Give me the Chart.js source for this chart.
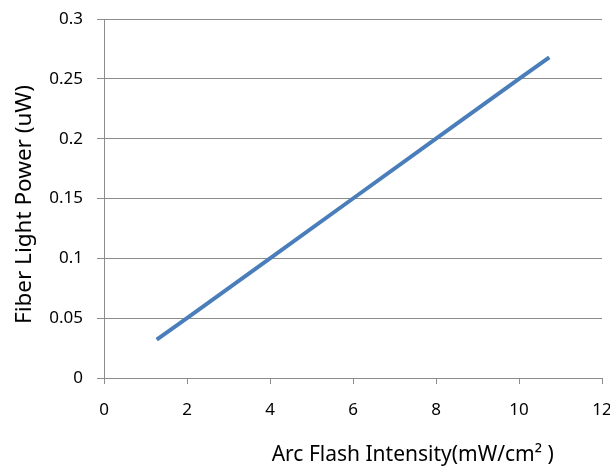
<!DOCTYPE html>
<html>
<head>
<meta charset="utf-8">
<script src="https://cdn.jsdelivr.net/npm/chart.js@4/dist/chart.umd.min.js"></script>
<style>
  html, body { margin: 0; padding: 0; background: #fff; }
  #wrap { width: 610px; height: 469px; position: relative; }
</style>
</head>
<body>
<div id="wrap"><canvas id="chart"></canvas></div>
<script>
// data
const intensity = [1.27, 2, 4, 6, 8, 10, 10.73];
const power = [0.032, 0.05, 0.1, 0.15, 0.2, 0.25, 0.268];
const xTicks = [0, 2, 4, 6, 8, 10, 12];
const yTicks = [0, 0.05, 0.1, 0.15, 0.2, 0.25, 0.3];
const xTitle = "Arc Flash Intensity(mW/cm\u00B2 )";
const yTitle = "Fiber Light Power (uW)";

const FONT = "'Noto Sans', 'Open Sans', sans-serif";
const GRID = "#8c8c8c";

// axis titles, placed from the chart area
const titles = {
  id: "titles",
  afterDraw(chart) {
    const { ctx, chartArea } = chart;
    ctx.save();
    ctx.fillStyle = "#000";
    ctx.textAlign = "center";
    ctx.textBaseline = "alphabetic";
    ctx.font = "21px " + FONT;
    ctx.fillText(xTitle, chartArea.left + (chartArea.right - chartArea.left) * 0.62, chartArea.bottom + 83);
    ctx.font = "22.5px " + FONT;
    ctx.translate(31, (chartArea.top + chartArea.bottom) / 2 + 6);
    ctx.rotate(-Math.PI / 2);
    ctx.fillText(yTitle, 0, 0);
    ctx.restore();
  }
};

new Chart(document.getElementById("chart"), {
  type: "line",
  data: {
    datasets: [{
      data: intensity.map((x, i) => ({ x: x, y: power[i] })),
      borderColor: "#4a7ebb",
      borderWidth: 4,
      pointRadius: 0,
      tension: 0,
      fill: false
    }]
  },
  options: {
    responsive: true,
    maintainAspectRatio: false,
    animation: false,
    layout: { padding: { top: 19, right: 8, left: 0, bottom: 0 } },
    plugins: { legend: { display: false }, tooltip: { enabled: false } },
    scales: {
      x: {
        type: "linear",
        min: 0,
        max: 12,
        afterBuildTicks: axis => { axis.ticks = xTicks.map(v => ({ value: v })); },
        afterFit: axis => { axis.height = 91; axis.paddingRight = 0; axis.paddingLeft = 0; },
        grid: { drawOnChartArea: false, color: GRID, tickLength: 6 },
        border: { color: GRID },
        ticks: { color: "#000", font: { family: FONT, size: 17 }, padding: 16, maxRotation: 0 }
      },
      y: {
        min: 0,
        max: 0.3,
        afterBuildTicks: axis => { axis.ticks = yTicks.map(v => ({ value: v })); },
        afterFit: axis => { axis.width = 104; axis.paddingTop = 0; axis.paddingBottom = 0; },
        grid: { color: GRID, tickLength: 7 },
        border: { color: GRID },
        ticks: { color: "#000", font: { family: FONT, size: 17 }, padding: 14, callback: v => String(v) }
      }
    }
  },
  plugins: [titles]
});
</script>
</body>
</html>
